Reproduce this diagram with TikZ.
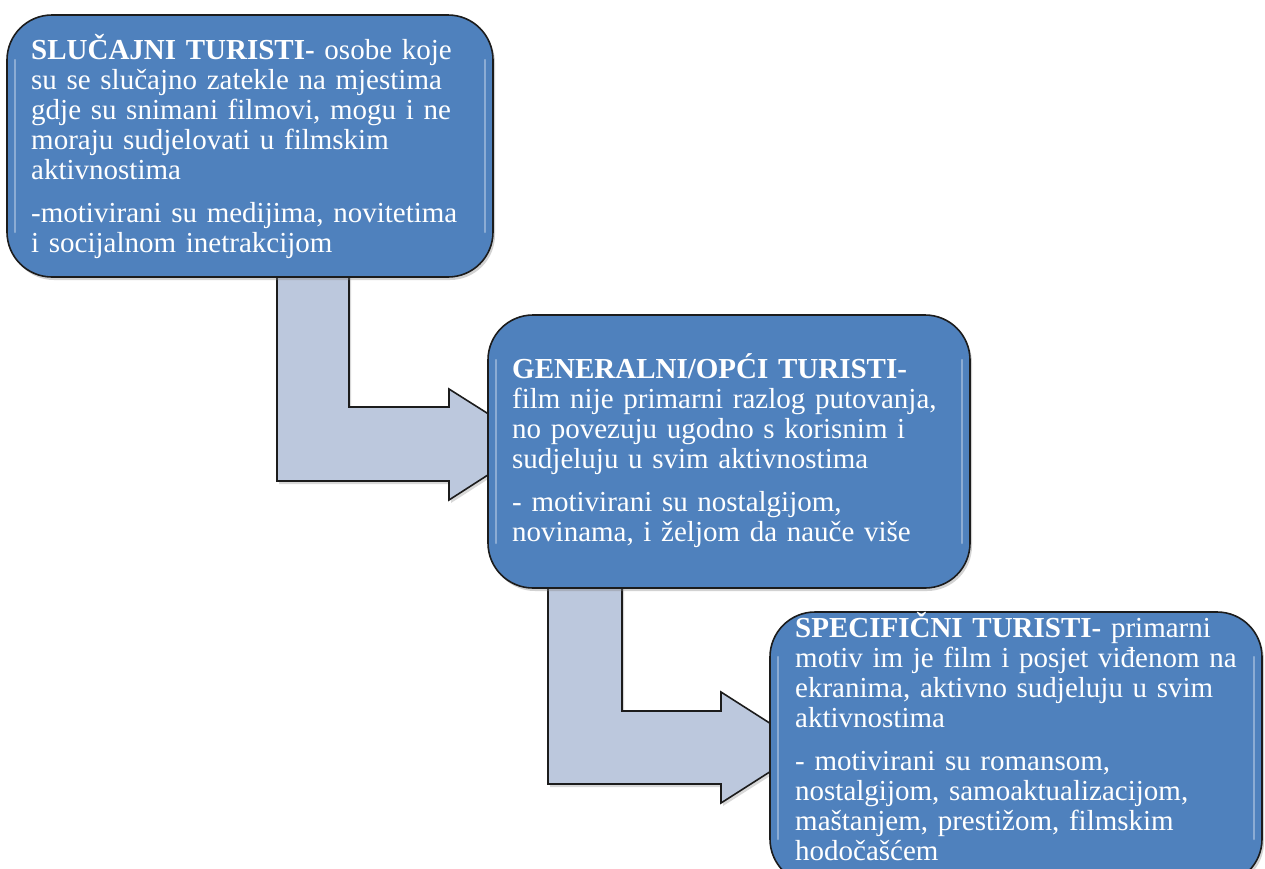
\documentclass[tikz,border=0pt]{standalone}
\usepackage{fontspec}
\setmainfont{Liberation Serif}
\usetikzlibrary{shadows}
\definecolor{boxblue}{HTML}{4F81BD}
\definecolor{arrowfill}{HTML}{BCC8DD}
\definecolor{edgecol}{HTML}{1C1C1C}
\begin{document}
\begin{tikzpicture}[x=1pt,y=-1pt,
  box/.style={draw=edgecol, line width=1.6pt, fill=boxblue, rounded corners=45pt,
    inner sep=0pt, outer sep=0pt, anchor=north west,
    drop shadow={opacity=0.35, shadow xshift=2pt, shadow yshift=-3pt}},
  hl/.style={draw=white, draw opacity=0.35, line width=2.5pt, line cap=round},
  arr/.style={draw=edgecol, line width=1.6pt, fill=arrowfill, line join=miter,
    drop shadow={opacity=0.3, shadow xshift=2pt, shadow yshift=-3pt}},
  txt/.style={text=white, align=left, text width=450pt, inner sep=0pt, anchor=base west,
    font=\fontsize{29}{30}\selectfont}]
\clip (0,0) rectangle (1265,868);
\fill[white] (0,0) rectangle (1265,868);
% bent arrows
\draw[arr] (277,270) -- (349,270) -- (349,407) -- (449,407) -- (449,389) -- (536,444)
  -- (449,500) -- (449,481) -- (277,481) -- cycle;
\draw[arr] (548,580) -- (622,580) -- (622,711) -- (721,711) -- (721,692) -- (808,747.5)
  -- (721,803) -- (721,784) -- (548,784) -- cycle;
% boxes
\node[box, minimum width=486pt, minimum height=262pt] (b1) at (7,15) {};
\draw[hl] ([xshift=8pt,yshift=-45pt]b1.north west) -- ([xshift=8pt,yshift=45pt]b1.south west);
\draw[hl] ([xshift=-8pt,yshift=-45pt]b1.north east) -- ([xshift=-8pt,yshift=45pt]b1.south east);
\node[box, minimum width=482pt, minimum height=273pt] (b2) at (488,315) {};
\draw[hl] ([xshift=8pt,yshift=-45pt]b2.north west) -- ([xshift=8pt,yshift=45pt]b2.south west);
\draw[hl] ([xshift=-8pt,yshift=-45pt]b2.north east) -- ([xshift=-8pt,yshift=45pt]b2.south east);
\node[box, minimum width=492pt, minimum height=272pt] (b3) at (770,612) {};
\draw[hl] ([xshift=8pt,yshift=-45pt]b3.north west) -- ([xshift=8pt,yshift=45pt]b3.south west);
\draw[hl] ([xshift=-8pt,yshift=-45pt]b3.north east) -- ([xshift=-8pt,yshift=45pt]b3.south east);
% texts
\node[txt] (t1) at (31,59) {\textbf{SLUČAJNI TURISTI-} osobe koje\\
su se slučajno zatekle na mjestima\\
gdje su snimani filmovi, mogu i ne\\
moraju sudjelovati u filmskim\\
aktivnostima\\[13pt]
-motivirani su medijima, novitetima\\
i socijalnom inetrakcijom};
\node[txt] (t2) at (512,378) {\textbf{GENERALNI/OPĆI TURISTI-}\\
film nije primarni razlog putovanja,\\
no povezuju ugodno s korisnim i\\
sudjeluju u svim aktivnostima\\[13pt]
- motivirani su nostalgijom,\\
novinama, i željom da nauče više};
\node[txt] (t3) at (795,637) {\textbf{SPECIFIČNI TURISTI-} primarni\\
motiv im je film i posjet viđenom na\\
ekranima, aktivno sudjeluju u svim\\
aktivnostima\\[13pt]
- motivirani su romansom,\\
nostalgijom, samoaktualizacijom,\\
maštanjem, prestižom, filmskim\\
hodočašćem};
\end{tikzpicture}
\end{document}
